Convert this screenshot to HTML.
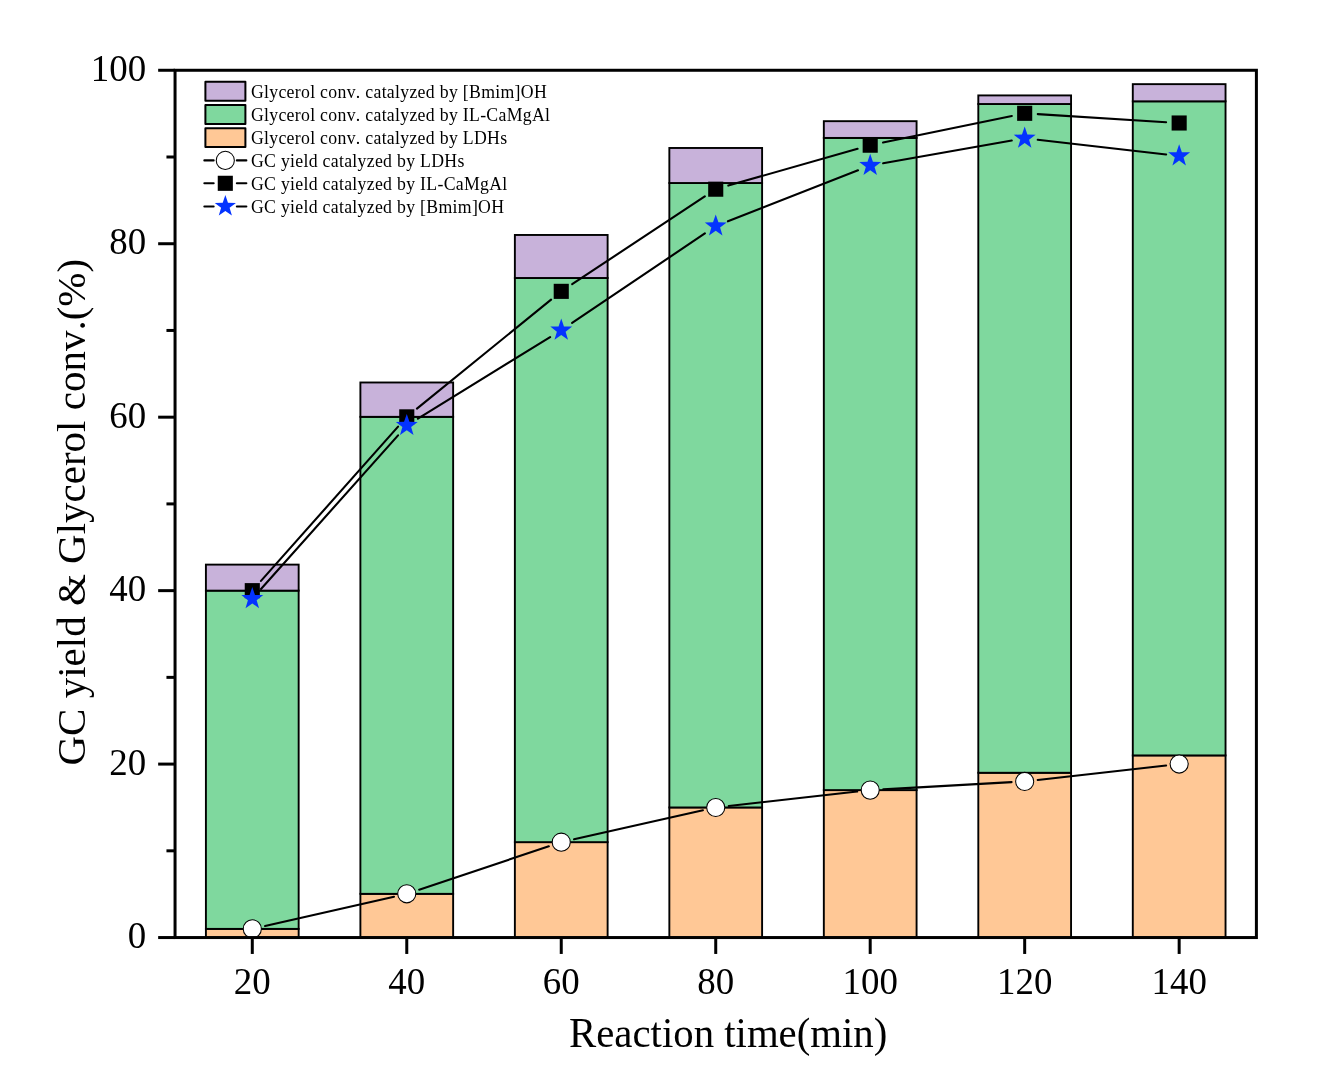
<!DOCTYPE html>
<html><head><meta charset="utf-8"><title>Chart</title>
<style>html,body{margin:0;padding:0;background:#fff}body{width:1322px;height:1075px;overflow:hidden}
svg{display:block;will-change:transform}
svg text{font-family:"Liberation Serif",serif;fill:#000}</style></head><body>
<svg width="1322" height="1075" viewBox="0 0 1322 1075">
<rect width="1322" height="1075" fill="#fff"/>
<g stroke="#000" stroke-width="1.9" stroke-linejoin="miter">
<rect x="205.91" y="928.88" width="92.75" height="8.67" fill="#FFC896"/>
<rect x="205.91" y="590.64" width="92.75" height="338.24" fill="#7FD89E"/>
<rect x="205.91" y="564.62" width="92.75" height="26.02" fill="#C8B2DA"/>
<rect x="360.39" y="893.84" width="92.75" height="43.71" fill="#FFC896"/>
<rect x="360.39" y="416.84" width="92.75" height="477.00" fill="#7FD89E"/>
<rect x="360.39" y="382.49" width="92.75" height="34.34" fill="#C8B2DA"/>
<rect x="514.87" y="842.15" width="92.75" height="95.40" fill="#FFC896"/>
<rect x="514.87" y="277.98" width="92.75" height="564.17" fill="#7FD89E"/>
<rect x="514.87" y="234.97" width="92.75" height="43.02" fill="#C8B2DA"/>
<rect x="669.35" y="807.46" width="92.75" height="130.09" fill="#FFC896"/>
<rect x="669.35" y="183.02" width="92.75" height="624.44" fill="#7FD89E"/>
<rect x="669.35" y="147.98" width="92.75" height="35.04" fill="#C8B2DA"/>
<rect x="823.83" y="790.11" width="92.75" height="147.44" fill="#FFC896"/>
<rect x="823.83" y="137.92" width="92.75" height="652.19" fill="#7FD89E"/>
<rect x="823.83" y="121.18" width="92.75" height="16.74" fill="#C8B2DA"/>
<rect x="978.31" y="772.77" width="92.75" height="164.78" fill="#FFC896"/>
<rect x="978.31" y="104.01" width="92.75" height="668.76" fill="#7FD89E"/>
<rect x="978.31" y="95.42" width="92.75" height="8.59" fill="#C8B2DA"/>
<rect x="1132.79" y="755.42" width="92.75" height="182.13" fill="#FFC896"/>
<rect x="1132.79" y="101.32" width="92.75" height="654.10" fill="#7FD89E"/>
<rect x="1132.79" y="84.15" width="92.75" height="17.17" fill="#C8B2DA"/>
</g>
<g stroke="#000" stroke-width="2.1" stroke-linecap="round">
<line x1="265.06" y1="925.98" x2="393.99" y2="896.74"/>
<line x1="419.19" y1="889.68" x2="548.82" y2="846.31"/>
<line x1="574.03" y1="839.28" x2="702.94" y2="810.33"/>
<line x1="728.74" y1="806.00" x2="857.19" y2="791.57"/>
<line x1="883.28" y1="789.38" x2="1011.60" y2="782.17"/>
<line x1="1037.70" y1="779.98" x2="1166.14" y2="765.56"/>
</g>
<circle cx="252.29" cy="928.88" r="9.05" fill="#fff" stroke="#000" stroke-width="1.05"/>
<circle cx="406.77" cy="893.84" r="9.05" fill="#fff" stroke="#000" stroke-width="1.05"/>
<circle cx="561.25" cy="842.15" r="9.05" fill="#fff" stroke="#000" stroke-width="1.05"/>
<circle cx="715.73" cy="807.46" r="9.05" fill="#fff" stroke="#000" stroke-width="1.05"/>
<circle cx="870.20" cy="790.11" r="9.05" fill="#fff" stroke="#000" stroke-width="1.05"/>
<circle cx="1024.68" cy="781.44" r="9.05" fill="#fff" stroke="#000" stroke-width="1.05"/>
<circle cx="1179.16" cy="764.09" r="9.05" fill="#fff" stroke="#000" stroke-width="1.05"/>
<g stroke="#000" stroke-width="2.1" stroke-linecap="round">
<line x1="260.99" y1="580.86" x2="398.07" y2="426.64"/>
<line x1="416.94" y1="408.59" x2="551.08" y2="299.61"/>
<line x1="572.17" y1="284.12" x2="704.80" y2="196.43"/>
<line x1="728.32" y1="185.61" x2="857.60" y2="148.79"/>
<line x1="883.03" y1="142.55" x2="1011.85" y2="115.95"/>
<line x1="1037.76" y1="114.12" x2="1166.09" y2="122.18"/>
</g>
<rect x="244.74" y="583.10" width="15.1" height="15.1" fill="#000"/>
<rect x="399.22" y="409.30" width="15.1" height="15.1" fill="#000"/>
<rect x="553.70" y="283.80" width="15.1" height="15.1" fill="#000"/>
<rect x="708.18" y="181.65" width="15.1" height="15.1" fill="#000"/>
<rect x="862.65" y="137.65" width="15.1" height="15.1" fill="#000"/>
<rect x="1017.13" y="105.75" width="15.1" height="15.1" fill="#000"/>
<rect x="1171.61" y="115.45" width="15.1" height="15.1" fill="#000"/>
<g stroke="#000" stroke-width="2.1" stroke-linecap="round">
<line x1="261.01" y1="588.93" x2="398.05" y2="435.37"/>
<line x1="417.91" y1="418.72" x2="550.10" y2="337.08"/>
<line x1="572.11" y1="322.88" x2="704.86" y2="233.42"/>
<line x1="727.92" y1="221.32" x2="858.01" y2="170.28"/>
<line x1="883.11" y1="163.23" x2="1011.78" y2="140.57"/>
<line x1="1037.70" y1="139.79" x2="1166.15" y2="154.45"/>
</g>
<polygon points="252.29,587.00 254.99,594.91 263.23,595.08 256.66,600.15 259.05,608.17 252.29,603.38 245.53,608.17 247.91,600.15 241.35,595.08 249.59,594.91" fill="#0433FF"/>
<polygon points="406.77,413.90 409.47,421.81 417.71,421.98 411.14,427.05 413.53,435.07 406.77,430.28 400.01,435.07 402.39,427.05 395.83,421.98 404.06,421.81" fill="#0433FF"/>
<polygon points="561.25,318.50 563.95,326.41 572.18,326.58 565.62,331.65 568.01,339.67 561.25,334.88 554.49,339.67 556.87,331.65 550.31,326.58 558.54,326.41" fill="#0433FF"/>
<polygon points="715.73,214.40 718.43,222.31 726.66,222.48 720.10,227.55 722.48,235.57 715.73,230.78 708.97,235.57 711.35,227.55 704.79,222.48 713.02,222.31" fill="#0433FF"/>
<polygon points="870.20,153.80 872.91,161.71 881.14,161.88 874.58,166.95 876.96,174.97 870.20,170.18 863.44,174.97 865.83,166.95 859.27,161.88 867.50,161.71" fill="#0433FF"/>
<polygon points="1024.68,126.60 1027.39,134.51 1035.62,134.68 1029.06,139.75 1031.44,147.77 1024.68,142.98 1017.92,147.77 1020.31,139.75 1013.74,134.68 1021.98,134.51" fill="#0433FF"/>
<polygon points="1179.16,144.24 1181.86,152.15 1190.10,152.32 1183.54,157.39 1185.92,165.41 1179.16,160.62 1172.40,165.41 1174.79,157.39 1168.22,152.32 1176.46,152.15" fill="#0433FF"/>
<g stroke="#000" stroke-width="3.0" fill="none">
<rect x="175.05" y="70.27" width="1081.35" height="867.28"/>
<line x1="158.15" y1="937.55" x2="175.05" y2="937.55"/>
<line x1="166.45" y1="850.82" x2="175.05" y2="850.82"/>
<line x1="158.15" y1="764.09" x2="175.05" y2="764.09"/>
<line x1="166.45" y1="677.37" x2="175.05" y2="677.37"/>
<line x1="158.15" y1="590.64" x2="175.05" y2="590.64"/>
<line x1="166.45" y1="503.91" x2="175.05" y2="503.91"/>
<line x1="158.15" y1="417.18" x2="175.05" y2="417.18"/>
<line x1="166.45" y1="330.45" x2="175.05" y2="330.45"/>
<line x1="158.15" y1="243.73" x2="175.05" y2="243.73"/>
<line x1="166.45" y1="157.00" x2="175.05" y2="157.00"/>
<line x1="158.15" y1="70.27" x2="175.05" y2="70.27"/>
<line x1="252.29" y1="937.55" x2="252.29" y2="953.95"/>
<line x1="406.77" y1="937.55" x2="406.77" y2="953.95"/>
<line x1="561.25" y1="937.55" x2="561.25" y2="953.95"/>
<line x1="715.73" y1="937.55" x2="715.73" y2="953.95"/>
<line x1="870.20" y1="937.55" x2="870.20" y2="953.95"/>
<line x1="1024.68" y1="937.55" x2="1024.68" y2="953.95"/>
<line x1="1179.16" y1="937.55" x2="1179.16" y2="953.95"/>
</g>
<g class="t">
<text transform="translate(146.1,948.30) scale(1,1.02)" font-size="36.9" text-anchor="end">0</text>
<text transform="translate(146.1,774.84) scale(1,1.02)" font-size="36.9" text-anchor="end">20</text>
<text transform="translate(146.1,601.39) scale(1,1.02)" font-size="36.9" text-anchor="end">40</text>
<text transform="translate(146.1,427.93) scale(1,1.02)" font-size="36.9" text-anchor="end">60</text>
<text transform="translate(146.1,254.48) scale(1,1.02)" font-size="36.9" text-anchor="end">80</text>
<text transform="translate(146.1,81.02) scale(1,1.02)" font-size="36.9" text-anchor="end">100</text>
<text transform="translate(252.29,993.9) scale(1,1.02)" font-size="36.9" text-anchor="middle">20</text>
<text transform="translate(406.77,993.9) scale(1,1.02)" font-size="36.9" text-anchor="middle">40</text>
<text transform="translate(561.25,993.9) scale(1,1.02)" font-size="36.9" text-anchor="middle">60</text>
<text transform="translate(715.73,993.9) scale(1,1.02)" font-size="36.9" text-anchor="middle">80</text>
<text transform="translate(870.20,993.9) scale(1,1.02)" font-size="36.9" text-anchor="middle">100</text>
<text transform="translate(1024.68,993.9) scale(1,1.02)" font-size="36.9" text-anchor="middle">120</text>
<text transform="translate(1179.16,993.9) scale(1,1.02)" font-size="36.9" text-anchor="middle">140</text>
<text transform="translate(728.2,1047.3) scale(1,1.03)" font-size="40.8" text-anchor="middle">Reaction time(min)</text>
<text transform="translate(85,512.2) rotate(-90)" font-size="41" style="font-kerning:none" text-anchor="middle">GC yield &amp; Glycerol conv.(%)</text>
<text transform="translate(250.9,97.50) scale(1,1.08)" font-size="17.75" style="letter-spacing:0.3px;font-kerning:none">Glycerol conv. catalyzed by [Bmim]OH</text>
<text transform="translate(250.9,120.60) scale(1,1.08)" font-size="17.75" style="letter-spacing:0.3px;font-kerning:none">Glycerol conv. catalyzed by IL-CaMgAl</text>
<text transform="translate(250.9,143.70) scale(1,1.08)" font-size="17.75" style="letter-spacing:0.3px;font-kerning:none">Glycerol conv. catalyzed by LDHs</text>
<text transform="translate(250.9,167.00) scale(1,1.08)" font-size="17.75" style="letter-spacing:0.3px;font-kerning:none">GC yield catalyzed by LDHs</text>
<text transform="translate(250.9,189.90) scale(1,1.08)" font-size="17.75" style="letter-spacing:0.3px;font-kerning:none">GC yield catalyzed by IL-CaMgAl</text>
<text transform="translate(250.9,213.00) scale(1,1.08)" font-size="17.75" style="letter-spacing:0.3px;font-kerning:none">GC yield catalyzed by [Bmim]OH</text>
</g>
<rect x="205.4" y="81.85" width="40" height="18.9" fill="#C8B2DA" stroke="#000" stroke-width="2" stroke-linejoin="round"/>
<rect x="205.4" y="105.05" width="40" height="18.9" fill="#7FD89E" stroke="#000" stroke-width="2" stroke-linejoin="round"/>
<rect x="205.4" y="128.20" width="40" height="18.9" fill="#FFC896" stroke="#000" stroke-width="2" stroke-linejoin="round"/>
<g stroke="#000" stroke-width="2.1" stroke-linecap="round">
<line x1="204.35" y1="160.4" x2="213.65" y2="160.4"/>
<line x1="236.85" y1="160.4" x2="246.35" y2="160.4"/>
<line x1="204.35" y1="183.3" x2="213.65" y2="183.3"/>
<line x1="236.85" y1="183.3" x2="246.35" y2="183.3"/>
<line x1="204.35" y1="206.5" x2="213.65" y2="206.5"/>
<line x1="236.85" y1="206.5" x2="246.35" y2="206.5"/>
</g>
<circle cx="225.3" cy="160.4" r="9.05" fill="#fff" stroke="#000" stroke-width="1.05"/>
<rect x="217.75" y="175.75" width="15.1" height="15.1" fill="#000"/>
<polygon points="225.35,195.05 227.97,202.73 235.96,202.89 229.59,207.80 231.91,215.58 225.35,210.94 218.79,215.58 221.11,207.80 214.74,202.89 222.73,202.73" fill="#0433FF"/>
</svg>
</body></html>
